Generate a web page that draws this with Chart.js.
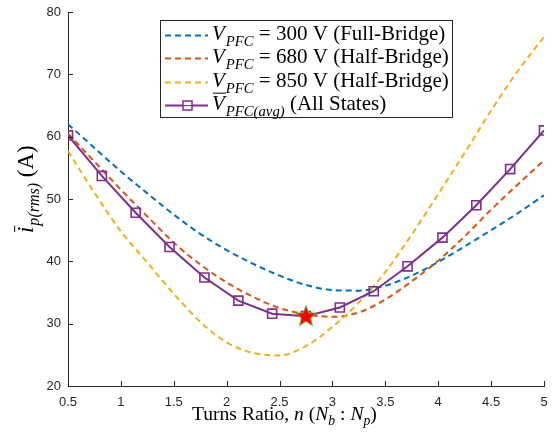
<!DOCTYPE html>
<html><head><meta charset="utf-8">
<script src="https://cdn.jsdelivr.net/npm/chart.js@4.4.0/dist/chart.umd.min.js"></script>
<style>html,body{margin:0;padding:0;background:#fff}</style>
</head><body>
<canvas id="c" width="556" height="444"></canvas>
<script>
// ---------- data ----------
const nCurve = [0.5,0.75,1,1.25,1.5,1.75,2,2.25,2.5,2.75,3,3.25,3.5,3.75,4,4.25,4.5,4.75,5];
const i300 = [62.0,58.2,54.4,50.9,47.5,44.4,41.8,39.6,37.7,36.2,35.4,35.3,36.1,37.7,39.9,42.4,45.0,47.7,50.6];
const i680 = [60.5,56.0,51.5,47.2,43.0,39.5,36.6,34.3,32.5,31.5,31.1,31.8,33.9,36.8,40.1,44.0,48.3,52.3,56.2];
const i850 = [57.7,51.0,44.8,39.8,34.8,30.3,27.0,25.3,24.9,26.4,29.5,33.4,38.3,44.3,50.8,57.4,64.2,70.5,76.0];
const nAvg = [0.5,0.82,1.14,1.46,1.79,2.11,2.43,2.75,3.07,3.39,3.71,4.04,4.36,4.68,5.0];
const iAvg = [60.2,53.7,47.8,42.3,37.4,33.7,31.6,31.2,32.6,35.2,39.2,43.8,49.0,54.8,61.0];
const nOpt = [2.75];
const iOpt = [31.2];
const xTickLabels = ['0.5','1','1.5','2','2.5','3','3.5','4','4.5','5'];
const yTickLabels = ['20','30','40','50','60','70','80'];
const vPFC = ['300','680','850'];
const bridgeType = ['Full-Bridge','Half-Bridge','Half-Bridge'];
const avgLabel = 'All States';

const C_BLUE='#0072BD', C_ORANGE='#D95319', C_YELLOW='#EDB120', C_PURPLE='#7E2F8E';
const AX='#262626';
const SERIF="'Liberation Serif', 'DejaVu Serif', serif";

function pts(xs, ys){ return xs.map((x,i)=>({x:x, y:ys[i]})); }

// star marker
function makeStar(){
  const cv=document.createElement('canvas'); cv.width=26; cv.height=26;
  const g=cv.getContext('2d'); const R=11, r=4.6, cx=13, cy=13.5;
  g.beginPath();
  for(let k=0;k<10;k++){
    const ang=-Math.PI/2 + k*Math.PI/5; const rr = k%2===0?R:r;
    const px=cx+rr*Math.cos(ang), py=cy+rr*Math.sin(ang);
    k===0?g.moveTo(px,py):g.lineTo(px,py);
  }
  g.closePath(); g.fillStyle='#FF0000'; g.fill();
  g.lineWidth=1; g.strokeStyle='#77AC30'; g.stroke();
  return cv;
}
const starImg = makeStar();

// rich text helper
function richWidth(ctx, parts, size){
  let w=0;
  for(const p of parts){
    const fs = p.sub? size*0.7 : size;
    ctx.font=(p.it?'italic ':'')+fs.toFixed(2)+'px '+SERIF;
    w+=ctx.measureText(p.t).width + (p.gap||0);
  }
  return w;
}
function drawRich(ctx, parts, x, y, size){
  let cx=x;
  for(const p of parts){
    const fs = p.sub? size*0.7 : size;
    ctx.font=(p.it?'italic ':'')+fs.toFixed(2)+'px '+SERIF;
    const dy = p.sub? size*0.28 : 0;
    const w=ctx.measureText(p.t).width;
    ctx.fillText(p.t, cx, y+dy);
    if(p.over){
      ctx.save(); ctx.lineWidth=1; ctx.beginPath();
      ctx.moveTo(cx+1, y-size*0.80); ctx.lineTo(cx+w+1, y-size*0.80); ctx.strokeStyle=ctx.fillStyle; ctx.stroke(); ctx.restore();
    }
    cx+=w+(p.gap||0);
  }
  return cx-x;
}
function fitSize(ctx, parts, target, base){
  const w=richWidth(ctx, parts, base); return base*target/w;
}

const decorPlugin = {
  id:'decor',
  afterDraw(chart){
    const ctx=chart.ctx; const xs=chart.scales.x, ys=chart.scales.y;
    const L=chart.chartArea.left, B=chart.chartArea.bottom;
    ctx.save();
    // inward ticks
    ctx.strokeStyle=AX; ctx.lineWidth=1;
    ctx.beginPath();
    xs.ticks.forEach(t=>{ const px=Math.round(xs.getPixelForValue(t.value))+0.5; ctx.moveTo(px,B); ctx.lineTo(px,B-5); });
    ys.ticks.forEach(t=>{ const py=Math.round(ys.getPixelForValue(t.value))+0.5; ctx.moveTo(L,py); ctx.lineTo(L+5,py); });
    ctx.stroke();

    // axis titles
    ctx.fillStyle='#000'; ctx.textBaseline='alphabetic'; ctx.textAlign='left';
    const xt=[{t:'Turns Ratio, '},{t:'n',it:true},{t:' ('},{t:'N',it:true},{t:'b',it:true,sub:true},{t:' : '},{t:'N',it:true},{t:'p',it:true,sub:true},{t:')'}];
    const xs1=fitSize(ctx,xt,185,17);
    drawRich(ctx,xt,192,420,xs1);

    const yt=[{t:'i',it:true,over:true,gap:1},{t:'p(rms)',it:true,sub:true},{t:' (A)'}];
    const ys1=fitSize(ctx,yt,88,17);
    ctx.save(); ctx.translate(33,233); ctx.rotate(-Math.PI/2);
    drawRich(ctx,yt,0,0,ys1);
    ctx.restore();

    // legend
    const bx=160.5, by=20.5, bw=292, bh=97;
    ctx.fillStyle='#fff'; ctx.fillRect(bx,by,bw,bh);
    ctx.strokeStyle=AX; ctx.lineWidth=1; ctx.strokeRect(bx,by,bw,bh);
    const rows=[];
    for(let k=0;k<3;k++){
      rows.push({color:[C_BLUE,C_ORANGE,C_YELLOW][k], dash:true,
        parts:[{t:'V',it:true,gap:1},{t:'PFC',it:true,sub:true},{t:' = '+vPFC[k]+' V ('+bridgeType[k]+')'}]});
    }
    rows.push({color:C_PURPLE, dash:false, marker:true,
      parts:[{t:'V',it:true,over:true,gap:1},{t:'PFC(avg)',it:true,sub:true},{t:' ('+avgLabel+')'}]});
    const lsize=fitSize(ctx,rows[1].parts,237,17);
    const rowY=[35,58,82,105];
    rows.forEach((r,k)=>{
      const y=rowY[k];
      ctx.save();
      ctx.strokeStyle=r.color; ctx.lineWidth=2;
      if(r.dash) ctx.setLineDash([6,4]);
      ctx.beginPath(); ctx.moveTo(165,y+0.5); ctx.lineTo(208,y+0.5); ctx.stroke();
      ctx.setLineDash([]);
      if(r.marker){ ctx.lineWidth=1.5; ctx.fillStyle='#fff'; ctx.fillRect(183,y-4,9,9); ctx.strokeRect(183,y-4,9,9);
        ctx.beginPath(); ctx.moveTo(183,y+0.5); ctx.lineTo(192,y+0.5); ctx.lineWidth=1; ctx.stroke(); }
      ctx.restore();
      ctx.fillStyle='#000';
      drawRich(ctx,r.parts,212,y+5,lsize);
    });
    ctx.restore();
  }
};

const dashed=(data,color,order)=>({data, borderColor:color, borderWidth:2, borderDash:[6,4], pointRadius:0,
  cubicInterpolationMode:'monotone', fill:false, order});

new Chart(document.getElementById('c'),{
  type:'line',
  data:{datasets:[
    {data:pts(nOpt,iOpt), showLine:false, pointStyle:starImg, pointRadius:11, order:0},
    {data:pts(nAvg,iAvg), borderColor:C_PURPLE, borderWidth:2, tension:0, pointStyle:'rect', pointRadius:6.4,
      pointBorderWidth:1.6, pointBorderColor:C_PURPLE, pointBackgroundColor:'rgba(255,255,255,0)', order:1},
    dashed(pts(nCurve,i850),C_YELLOW,2),
    dashed(pts(nCurve,i680),C_ORANGE,3),
    dashed(pts(nCurve,i300),C_BLUE,4)
  ]},
  options:{
    responsive:false, animation:false, devicePixelRatio:1,
    layout:{padding:{top:10,right:11,left:0,bottom:0}},
    plugins:{legend:{display:false}, tooltip:{enabled:false}},
    scales:{
      x:{type:'linear', min:0.5, max:5,
        afterFit(s){ s.height=58; s.paddingLeft=0; s.paddingRight=0; },
        afterBuildTicks(s){ s.ticks = xTickLabels.map(v=>({value:parseFloat(v)})); },
        ticks:{callback:(v)=>xTickLabels.find(l=>parseFloat(l)===v), color:AX, padding:9,
          font:{family:"'Liberation Sans', Arial, sans-serif", size:13}, maxRotation:0, autoSkip:false},
        grid:{display:false, drawTicks:false},
        border:{display:true, color:AX, width:1}},
      y:{type:'linear', min:20, max:80,
        afterFit(s){ s.width=68; s.paddingTop=0; s.paddingBottom=0; },
        afterBuildTicks(s){ s.ticks = yTickLabels.map(v=>({value:parseFloat(v)})); },
        ticks:{callback:(v)=>yTickLabels.find(l=>parseFloat(l)===v), color:AX, padding:7,
          font:{family:"'Liberation Sans', Arial, sans-serif", size:13}, autoSkip:false},
        grid:{display:false, drawTicks:false},
        border:{display:true, color:AX, width:1}}
    }
  },
  plugins:[decorPlugin]
});
</script>
</body></html>
